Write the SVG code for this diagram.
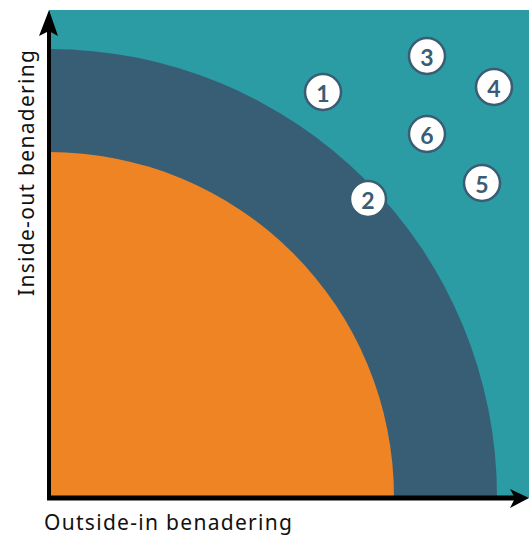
<svg xmlns="http://www.w3.org/2000/svg" width="529" height="536" viewBox="0 0 529 536">
<style>
.n circle{fill:#fff;stroke:#3a5d73;stroke-width:2.5}
.n text{fill:#3a5d73;font-family:Lato,"Noto Sans",sans-serif;font-size:23px;font-weight:bold;text-anchor:middle;dominant-baseline:central}
.lbl{fill:#111;font-family:"Noto Sans",Lato,sans-serif;font-size:21px}
</style>
<rect id="bg" x="49" y="10" width="480" height="488" fill="#2b9ba4"/>
<path id="ring" d="M49,497 L49,49 A448,448 0 0 1 497,497 Z" fill="#375e74"/>
<path id="core" d="M49,497 L49,152 A345,345 0 0 1 394,497 Z" fill="#ef8424"/>
<g id="connectors">
<line x1="49" y1="498" x2="49" y2="28" stroke="#000" stroke-width="4"/>
<line x1="47" y1="498" x2="518" y2="498" stroke="#000" stroke-width="5"/>
<polygon points="49,10 58,36 49,31 39,36" fill="#000"/>
<polygon points="529,498 510,489 515,498 510,508" fill="#000"/>
</g>
<g id="n1" class="n"><circle cx="323" cy="92" r="18"/><text x="323" y="93">1</text></g>
<g id="n2" class="n"><circle cx="368" cy="199" r="18"/><text x="368" y="200">2</text></g>
<g id="n3" class="n"><circle cx="427" cy="56" r="18"/><text x="427" y="57">3</text></g>
<g id="n4" class="n"><circle cx="494" cy="87" r="18"/><text x="494" y="88">4</text></g>
<g id="n5" class="n"><circle cx="482" cy="183" r="18"/><text x="482" y="184">5</text></g>
<g id="n6" class="n"><circle cx="427" cy="134" r="18"/><text x="427" y="135">6</text></g>
<text class="lbl" x="44" y="530" textLength="248">Outside-in benadering</text>
<text class="lbl" transform="translate(34,296) rotate(-90)" textLength="246">Inside-out benadering</text>
</svg>
